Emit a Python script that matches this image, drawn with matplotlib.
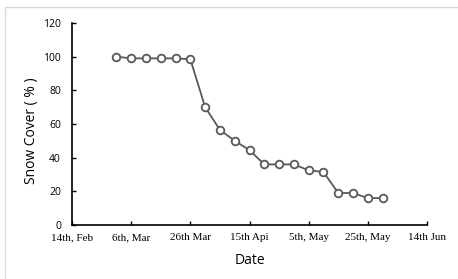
import matplotlib
matplotlib.use("Agg")
import matplotlib.pyplot as plt
from matplotlib.patches import Rectangle

# days since 14th Feb
days = [15, 20, 25, 30, 35, 40, 45, 50, 55, 60, 65, 70, 75, 80, 85, 90, 95, 100, 105]
snow_cover = [100, 99, 99, 99, 99, 98.5, 70, 56.5, 50, 44.5, 36, 36, 36, 32.5, 31.5, 19, 19, 16, 16]
x_ticks = [0, 20, 40, 60, 80, 100, 120]
x_labels = ["14th, Feb", "6th, Mar", "26th Mar", "15th Api", "5th, May", "25th, May", "14th Jun"]
y_ticks = [0, 20, 40, 60, 80, 100, 120]

fig = plt.figure(figsize=(4.58, 2.79), dpi=100)
fig.patches.append(Rectangle((5/458, -0.1), 1.2, 1 - 7/279 + 0.1, transform=fig.transFigure,
                             fill=False, edgecolor="#d9d9d9", linewidth=1.0))
ax = fig.add_axes([72/458, 1 - 225/279, (427 - 72)/458, (225 - 23)/279])

ax.plot(days, snow_cover, color="#595959", linewidth=1.3, marker="o", markersize=5.5,
        markerfacecolor="white", markeredgecolor="#595959", markeredgewidth=1.3, zorder=3)

ax.set_xlim(0, 120)
ax.set_ylim(0, 120)
ax.set_xticks(x_ticks)
ax.set_xticklabels(x_labels, fontfamily="Liberation Serif", fontsize=8)
ax.set_yticks(y_ticks)
ax.set_yticklabels([str(v) for v in y_ticks], fontfamily="Open Sans", fontsize=7.5)
ax.tick_params(axis="both", direction="in", length=3, width=1.0, color="black")
ax.tick_params(axis="x", pad=6)
ax.tick_params(axis="y", pad=8)
for s in ["top", "right"]:
    ax.spines[s].set_visible(False)
for s in ["left", "bottom"]:
    ax.spines[s].set_linewidth(1.2)
    ax.spines[s].set_color("black")

fig.text(31/458, 1 - 131/279, "Snow Cover ( % )", rotation=90, ha="center", va="center",
         fontfamily="Open Sans", fontsize=10)
fig.text(250/458, 1 - 260/279, "Date", ha="center", va="center",
         fontfamily="Open Sans", fontsize=10)

fig.savefig("out.png", dpi=100)
